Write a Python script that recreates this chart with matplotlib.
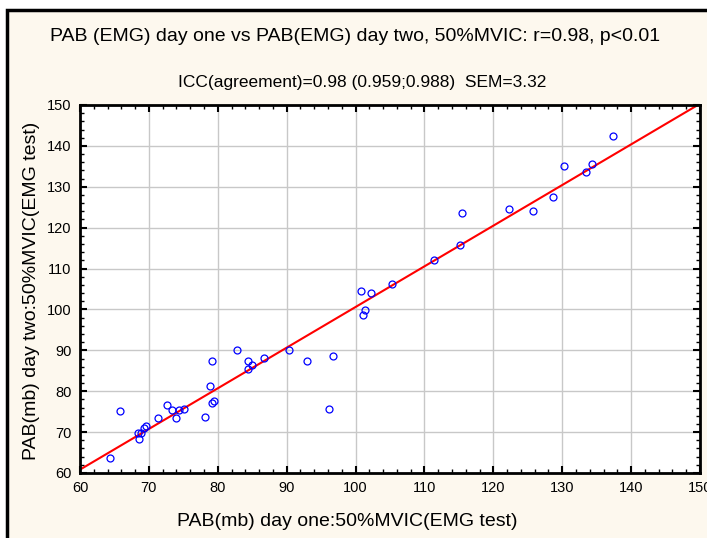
import matplotlib.pyplot as plt
import numpy as np
from matplotlib.patches import Rectangle
from matplotlib.ticker import MultipleLocator

plt.rcParams['font.family'] = ['Liberation Sans', 'DejaVu Sans']

# day one / day two values
day_one = np.array([64.4, 65.8, 68.4, 68.8, 68.5, 69.3, 69.6, 71.3, 72.7, 73.4,
                    74.0, 74.3, 75.1, 78.1, 78.9, 79.2, 79.2, 79.5, 82.8, 84.4,
                    84.4, 85.0, 86.7, 90.4, 92.9, 96.2, 96.7, 100.8, 101.1, 101.4,
                    102.2, 105.3, 111.4, 115.2, 115.5, 122.3, 125.8, 128.6, 130.2, 133.5,
                    134.3, 137.3])
day_two = np.array([63.6, 75.2, 69.7, 69.9, 68.3, 71.0, 71.6, 73.4, 76.6, 75.3,
                    73.4, 75.3, 75.7, 73.8, 81.2, 87.3, 77.0, 77.5, 90.0, 87.3,
                    85.4, 86.3, 88.2, 90.0, 87.3, 75.7, 88.6, 104.4, 98.7, 99.8,
                    103.9, 106.2, 112.1, 115.8, 123.6, 124.6, 124.1, 127.6, 135.0, 133.6,
                    135.5, 142.4])

W, H = 707, 538
fig = plt.figure(figsize=(W / 100, H / 100), dpi=100)
fig.patch.set_facecolor('white')
bg = '#fdf8ee'
frame = Rectangle((7 / W, -0.02), 1.0, 1 - 10 / H + 0.02, transform=fig.transFigure,
                  facecolor=bg, edgecolor='black', linewidth=2.5, zorder=-5)
fig.patches.append(frame)

ax = fig.add_axes([80 / W, 1 - 473 / H, 620 / W, 368 / H])
ax.set_facecolor('white')

fit = np.polyfit(day_one, day_two, 1)
xs = np.array([60, 150])
ax.plot(xs, np.polyval(fit, xs), color='red', lw=1.5, zorder=2)
ax.plot(day_one, day_two, 'o', mfc='none', mec='blue', ms=5, mew=0.9, zorder=3)

ax.set_xlim(60, 150)
ax.set_ylim(60, 150)
ax.xaxis.set_major_locator(MultipleLocator(10))
ax.yaxis.set_major_locator(MultipleLocator(10))
ax.xaxis.set_minor_locator(MultipleLocator(2))
ax.yaxis.set_minor_locator(MultipleLocator(2))
ax.grid(True, color='#c8c8c8', lw=1)
ax.set_axisbelow(True)
ax.tick_params(which='both', direction='in', top=True, right=True, labelsize=10.5,
               labeltop=False, labelright=False, pad=6)
ax.tick_params(which='major', length=5, width=1.5)
ax.tick_params(which='minor', length=3, width=1)
for s in ax.spines.values():
    s.set_linewidth(2)

fig.text(355 / W, 1 - 37 / H, 'PAB (EMG) day one vs PAB(EMG) day two, 50%MVIC: r=0.98, p<0.01',
         ha='center', va='center', fontsize=14)
fig.text(362 / W, 1 - 83 / H, 'ICC(agreement)=0.98 (0.959;0.988)  SEM=3.32',
         ha='center', va='center', fontsize=12.5)
fig.text(347 / W, 1 - 521 / H, 'PAB(mb) day one:50%MVIC(EMG test)',
         ha='center', va='center', fontsize=14)
fig.text(32 / W, 1 - 291 / H, 'PAB(mb) day two:50%MVIC(EMG test)',
         ha='center', va='center', rotation=90, fontsize=14)

fig.savefig('out.png', dpi=100, facecolor=fig.get_facecolor())
